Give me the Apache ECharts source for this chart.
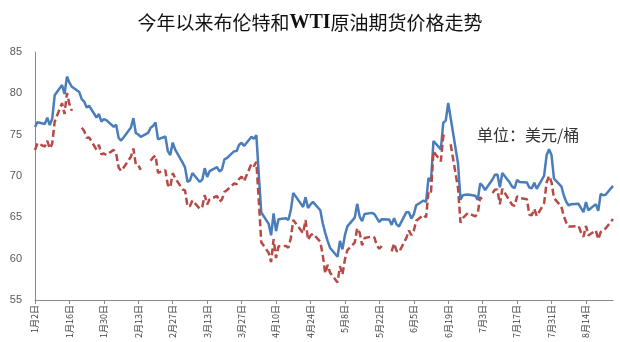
<!DOCTYPE html>
<html>
<head>
<meta charset="utf-8">
<script src="https://cdn.jsdelivr.net/npm/echarts@6/dist/echarts.min.js"></script>
<style>html,body{margin:0;padding:0;background:#fff}#c{width:620px;height:342px}</style>
</head>
<body>
<div id="c"></div>
<script>
// Trading dates (2025), month/day
const dates = [
 '1/2','1/3','1/6','1/7','1/8','1/9','1/10','1/13','1/14','1/15','1/16','1/17','1/20','1/21','1/22','1/23','1/24','1/27','1/28','1/29','1/30','1/31',
 '2/3','2/4','2/5','2/6','2/7','2/10','2/11','2/12','2/13','2/14','2/17','2/18','2/19','2/20','2/21','2/24','2/25','2/26','2/27','2/28',
 '3/3','3/4','3/5','3/6','3/7','3/10','3/11','3/12','3/13','3/14','3/17','3/18','3/19','3/20','3/21','3/24','3/25','3/26','3/27','3/28','3/31',
 '4/1','4/2','4/3','4/4','4/7','4/8','4/9','4/10','4/11','4/14','4/15','4/16','4/17','4/21','4/22','4/23','4/24','4/25','4/28','4/29','4/30',
 '5/1','5/2','5/5','5/6','5/7','5/8','5/9','5/12','5/13','5/14','5/15','5/16','5/19','5/20','5/21','5/22','5/23','5/26','5/27','5/28','5/29','5/30',
 '6/2','6/3','6/4','6/5','6/6','6/9','6/10','6/11','6/12','6/13','6/16','6/17','6/18','6/19','6/20','6/23','6/24','6/25','6/26','6/27','6/30',
 '7/1','7/2','7/3','7/4','7/7','7/8','7/9','7/10','7/11','7/14','7/15','7/16','7/17','7/18','7/21','7/22','7/23','7/24','7/25','7/28','7/29','7/30','7/31',
 '8/1','8/4','8/5','8/6','8/7','8/8','8/11','8/12','8/13','8/14','8/15','8/18','8/19','8/20','8/21','8/22','8/25'
];
// Brent (USD/bbl)
const brent = [
 75.93,76.51,76.30,77.05,76.16,76.92,79.76,81.01,79.92,82.03,81.29,80.79,80.15,79.29,79.00,78.29,78.50,77.08,77.49,76.58,76.87,76.76,
 75.96,76.20,74.61,74.29,74.66,75.87,77.00,75.18,75.02,74.74,75.22,75.84,76.04,76.48,74.43,74.78,73.02,72.53,74.04,73.18,
 71.62,71.04,69.30,69.46,70.36,69.28,69.56,70.95,69.88,70.58,71.07,70.56,70.78,72.00,72.16,73.00,73.02,73.79,74.03,73.63,74.74,
 74.49,74.95,70.14,65.58,64.21,62.82,65.48,63.33,64.76,64.88,64.67,65.85,67.96,66.26,67.44,66.12,66.55,66.87,65.86,64.25,63.12,
 62.13,61.29,60.23,62.15,61.12,62.84,63.91,64.96,66.63,65.09,64.53,65.41,65.54,65.38,64.91,64.44,64.78,64.74,64.09,64.90,64.15,63.90,
 65.63,65.63,64.86,65.34,66.47,67.04,66.87,69.77,69.36,74.23,73.23,76.45,76.70,78.85,77.01,71.48,67.14,67.68,67.73,67.77,67.61,
 67.11,69.11,68.80,68.30,69.58,70.15,70.19,68.64,70.36,69.21,68.71,68.52,69.52,69.28,69.21,68.59,68.51,69.18,68.44,70.04,72.51,73.24,72.53,
 69.67,68.76,67.64,66.89,66.43,66.59,66.63,66.12,65.63,66.84,65.85,66.60,65.79,67.84,67.67,67.73,68.80
];
// WTI (USD/bbl), null = no settlement
const wti = [
 73.13,73.96,73.56,74.25,73.32,73.92,76.57,78.82,77.50,80.04,78.68,77.88,null,75.83,75.44,74.62,74.66,73.17,73.77,72.62,72.73,72.53,
 73.16,72.70,71.03,70.61,71.00,72.32,73.32,71.37,71.29,70.74,null,71.85,72.25,72.48,70.40,70.70,68.93,68.62,70.35,69.76,
 68.37,68.26,66.31,66.36,67.04,66.03,66.25,67.68,66.55,67.18,67.58,66.90,67.16,68.07,68.28,69.11,69.00,69.65,69.92,69.36,71.48,
 71.20,71.71,66.95,61.99,60.70,59.58,62.35,60.07,61.50,61.53,61.33,62.47,64.68,63.08,64.67,62.27,62.79,63.02,62.05,60.42,58.21,
 59.24,58.29,57.13,59.09,58.07,59.91,61.02,61.95,63.67,63.15,61.62,62.49,62.69,62.56,61.57,61.20,61.53,null,60.89,61.84,60.94,60.79,
 62.52,63.41,62.85,63.37,64.58,65.29,64.98,68.15,68.04,72.98,71.77,74.84,75.14,null,73.84,68.51,64.37,64.92,65.24,65.52,65.11,
 65.45,67.45,67.00,null,67.93,68.33,68.38,66.57,68.45,66.98,66.52,66.38,67.54,67.34,67.20,65.31,65.25,66.03,65.16,66.71,69.21,70.00,69.26,
 67.33,66.29,65.16,64.35,63.88,63.88,63.96,63.17,62.65,63.96,62.80,63.42,62.35,63.21,63.52,63.66,64.80
];
const xTickLabels = ['1月2日','1月16日','1月30日','2月13日','2月27日','3月13日','3月27日','4月10日','4月24日','5月8日','5月22日','6月5日','6月19日','7月3日','7月17日','7月31日','8月14日'];
const yTicks = [55,60,65,70,75,80,85];
const titleText = '今年以来布伦特和{w|WTI}原油期货价格走势';
const unitText = '单位：美元/桶';

const YEAR = 2025;
const base = Date.UTC(YEAR, 0, 2);
function dayIdx(m, d) { return Math.round((Date.UTC(YEAR, m - 1, d) - base) / 86400000); }
const xs = dates.map(s => { const p = s.split('/'); return dayIdx(+p[0], +p[1]); });
const tickXs = xTickLabels.map(s => { const m = s.match(/(\d+)月(\d+)日/); return dayIdx(+m[1], +m[2]); });
const labelMap = {}; tickXs.forEach((x, i) => labelMap[x] = xTickLabels[i]);
const xMax = xs[xs.length - 1];

const chart = echarts.init(document.getElementById('c'), null, {renderer: 'canvas'});
chart.setOption({
  animation: false,
  backgroundColor: '#fff',
  title: {
    text: titleText, left: 'center', top: 8,
    textStyle: {fontSize: 19, fontWeight: 'normal', color: '#111', fontFamily: 'Noto Sans CJK SC',
      rich: {w: {fontSize: 20, fontWeight: 'bold', fontFamily: 'Liberation Serif', color: '#111'}}}
  },
  graphic: [{type: 'text', left: 477, top: 127, style: {text: unitText, fontSize: 16, fill: '#333', fontFamily: 'Noto Sans CJK SC'}}],
  grid: {left: 35, right: 7, top: 52, bottom: 42, containLabel: false},
  xAxis: {
    type: 'value', min: 0, max: xMax,
    axisLine: {show: true, lineStyle: {color: '#8a8a8a', width: 1}},
    axisTick: {show: true, length: 4, customValues: tickXs, lineStyle: {color: '#8a8a8a'}},
    axisLabel: {customValues: tickXs, rotate: 90, fontSize: 9, color: '#404040', margin: 5,
      fontFamily: 'Noto Sans CJK SC', formatter: v => labelMap[Math.round(v)] || ''},
    splitLine: {show: false}
  },
  yAxis: {
    type: 'value', min: yTicks[0], max: yTicks[yTicks.length - 1], interval: 5,
    axisLine: {show: true, lineStyle: {color: '#8a8a8a', width: 1}},
    axisTick: {show: false},
    axisLabel: {fontSize: 11, color: '#595959', margin: 13, fontFamily: 'Liberation Sans'},
    splitLine: {show: false}
  },
  series: [
    {name: '布伦特', type: 'line', showSymbol: false, symbol: 'none', connectNulls: false,
     lineStyle: {color: '#4a7dba', width: 2.5}, itemStyle: {color: '#4a7dba'},
     data: xs.map((x, i) => [x, brent[i]])},
    {name: 'WTI', type: 'line', showSymbol: false, symbol: 'none', connectNulls: false,
     lineStyle: {color: '#b54a46', width: 2.5, type: [7, 3.5]}, itemStyle: {color: '#b54a46'},
     data: xs.map((x, i) => [x, wti[i] == null ? '-' : wti[i]])}
  ]
});
</script>
</body>
</html>
